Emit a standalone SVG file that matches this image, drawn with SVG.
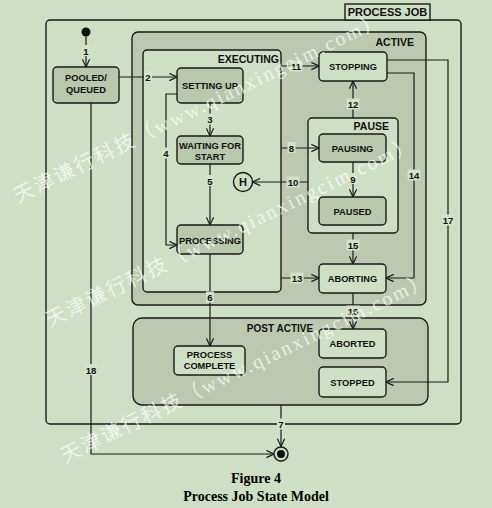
<svg xmlns="http://www.w3.org/2000/svg" width="492" height="508" viewBox="0 0 492 508">
<defs>
<style>
.bg{fill:#cfdfc5}
.reg{fill:#bcc9b0;stroke:#1a1a1a;stroke-width:1.4}
.lreg{fill:#cfdfc5;stroke:#1a1a1a;stroke-width:1.4}
.dn{fill:#b9c7ad;stroke:#1a1a1a;stroke-width:1.4}
.ln{fill:#cfdfc5;stroke:#1a1a1a;stroke-width:1.4}
.t{font-family:"Liberation Sans",Arial,sans-serif;font-weight:bold;font-size:9.3px;fill:#111;text-anchor:middle}
.rt{font-family:"Liberation Sans",Arial,sans-serif;font-weight:bold;font-size:10.5px;fill:#111;text-anchor:end}
.e{fill:none;stroke:#1a1a1a;stroke-width:1.2}
.ea{fill:none;stroke:#1a1a1a;stroke-width:1.2;marker-end:url(#arr)}
.lb{fill:#d3e2c8}
.lt{font-family:"Liberation Sans",Arial,sans-serif;font-weight:bold;font-size:9.6px;fill:#111;text-anchor:middle}
.cap{font-family:"Liberation Serif","Times New Roman",serif;font-weight:bold;font-size:14px;fill:#000;text-anchor:middle}
.wm{font-family:"Liberation Serif","Noto Sans CJK SC",serif;font-size:20px;fill:#ffffff;fill-opacity:0.7;letter-spacing:2.3px}
</style>
<marker id="arr" viewBox="0 0 10 10" refX="9.5" refY="5" markerWidth="9" markerHeight="9" markerUnits="userSpaceOnUse" orient="auto">
<path d="M1,1 L9.5,5 L1,9" fill="none" stroke="#1a1a1a" stroke-width="1.3"/>
</marker>
</defs>
<rect class="bg" x="0" y="0" width="492" height="508"/>

<g id="process-job">
<rect class="lreg" x="46" y="20" width="415" height="404" rx="4"/>
<rect fill="#cfdfc5" stroke="#1a1a1a" stroke-width="1.4" x="345" y="4" width="85" height="16"/>
<text class="t" style="font-size:11px" x="387.5" y="16">PROCESS JOB</text>
</g>

<g id="active">
<rect class="reg" x="132" y="32" width="294" height="273" rx="6"/>
<text class="rt" x="414" y="45.5">ACTIVE</text>
</g>

<g id="executing">
<rect class="lreg" x="143" y="50" width="138" height="242" rx="4"/>
<text class="rt" x="279" y="63">EXECUTING</text>
</g>

<g id="pause">
<rect class="lreg" x="308" y="118" width="90" height="115" rx="4"/>
<text class="rt" x="389" y="130">PAUSE</text>
</g>

<g id="post-active">
<rect class="reg" x="133" y="318" width="295" height="87" rx="9"/>
<text class="t" style="font-size:10px" x="280" y="332">POST ACTIVE</text>
</g>

<g id="initial"><circle cx="86" cy="32" r="4.5" fill="#111"/></g>

<g id="pooled-queued">
<rect class="dn" x="53" y="67" width="66" height="36" rx="4"/>
<text class="t" x="86" y="81">POOLED/</text>
<text class="t" x="86" y="93">QUEUED</text>
</g>

<g id="setting-up">
<rect class="dn" x="177" y="68" width="66" height="35" rx="4"/>
<text class="t" x="210" y="89">SETTING UP</text>
</g>

<g id="waiting-for-start">
<rect class="dn" x="177" y="136" width="66" height="28" rx="4"/>
<text class="t" x="210" y="149">WAITING FOR</text>
<text class="t" x="210" y="160">START</text>
</g>

<g id="processing">
<rect class="dn" x="177" y="225" width="66" height="29" rx="4"/>
<text class="t" x="210" y="243.5">PROCESSING</text>
</g>

<g id="history">
<circle cx="243" cy="182" r="9.5" fill="#cfdfc5" stroke="#1a1a1a" stroke-width="1.4"/>
<text class="t" style="font-size:11px" x="243" y="186">H</text>
</g>

<g id="stopping">
<rect class="ln" x="319" y="52" width="68" height="29" rx="4"/>
<text class="t" x="353" y="70">STOPPING</text>
</g>

<g id="pausing">
<rect class="dn" x="319" y="134" width="67" height="28" rx="4"/>
<text class="t" x="352.5" y="151.5">PAUSING</text>
</g>

<g id="paused">
<rect class="dn" x="319" y="197" width="67" height="28" rx="4"/>
<text class="t" x="352.5" y="214.5">PAUSED</text>
</g>

<g id="aborting">
<rect class="ln" x="319" y="264" width="67" height="29" rx="4"/>
<text class="t" x="352.5" y="282">ABORTING</text>
</g>

<g id="process-complete">
<rect class="ln" x="174" y="346" width="71" height="29" rx="4"/>
<text class="t" x="209.5" y="358">PROCESS</text>
<text class="t" x="209.5" y="369">COMPLETE</text>
</g>

<g id="aborted">
<rect class="ln" x="319" y="329" width="67" height="29" rx="4"/>
<text class="t" x="352.5" y="347">ABORTED</text>
</g>

<g id="stopped">
<rect class="ln" x="319" y="367" width="67" height="30" rx="4"/>
<text class="t" x="352.5" y="385.5">STOPPED</text>
</g>

<g id="final">
<circle cx="281" cy="454" r="7" fill="#cfdfc5" stroke="#1a1a1a" stroke-width="1.4"/>
<circle cx="281" cy="454" r="4" fill="#111"/>
</g>

<g id="connectors">
<path class="ea" d="M86,36.5 L86,67"/>
<path class="ea" d="M119,77 L177,77"/>
<path class="ea" d="M210,103 L210,136"/>
<path class="ea" d="M177,94 L166,94 L166,245 L177,245"/>
<path class="ea" d="M210,164 L210,225"/>
<path class="ea" d="M210,254 L210,346"/>
<path class="ea" d="M281,405 L281,446.5"/>
<path class="ea" d="M281,148 L319,148"/>
<path class="ea" d="M353,162 L353,197"/>
<path class="ea" d="M308,182 L252.5,182"/>
<path class="ea" d="M281,66 L319,66"/>
<path class="ea" d="M353,118 L353,81"/>
<path class="ea" d="M281,278 L319,278"/>
<path class="ea" d="M387,73 L414,73 L414,278 L386,278"/>
<path class="ea" d="M353,233 L353,264"/>
<path class="ea" d="M353,293 L353,329"/>
<path class="ea" d="M387,60 L448,60 L448,382 L386,382"/>
<path class="ea" d="M91,103 L91,454 L274,454"/>

<rect class="lb" x="82" y="45" width="8" height="11"/><text class="lt" x="86" y="54.5">1</text>
<rect class="lb" x="144" y="71.5" width="8" height="11"/><text class="lt" x="148" y="81">2</text>
<rect class="lb" x="206" y="113.5" width="8" height="11"/><text class="lt" x="210" y="123">3</text>
<rect class="lb" x="162" y="147.5" width="8" height="11"/><text class="lt" x="166" y="157">4</text>
<rect class="lb" x="206" y="175" width="8" height="11"/><text class="lt" x="210" y="184.5">5</text>
<rect class="lb" x="206" y="291.5" width="8" height="11"/><text class="lt" x="210" y="301">6</text>
<rect class="lb" x="277" y="418.5" width="8" height="11"/><text class="lt" x="281" y="428">7</text>
<rect class="lb" x="287.5" y="142" width="8" height="11"/><text class="lt" x="291.5" y="151.5">8</text>
<rect class="lb" x="349" y="173" width="8" height="11"/><text class="lt" x="353" y="182.5">9</text>
<rect class="lb" x="286.5" y="176.5" width="13" height="11"/><text class="lt" x="293" y="186">10</text>
<rect class="lb" x="289.5" y="60.5" width="13" height="11"/><text class="lt" x="296" y="70">11</text>
<rect class="lb" x="346.5" y="98.5" width="13" height="11"/><text class="lt" x="353" y="108">12</text>
<rect class="lb" x="290.5" y="272.5" width="13" height="11"/><text class="lt" x="297" y="282">13</text>
<rect class="lb" x="407.5" y="169.5" width="13" height="11"/><text class="lt" x="414" y="179">14</text>
<rect class="lb" x="346.5" y="239.5" width="13" height="11"/><text class="lt" x="353" y="249">15</text>
<rect class="lb" x="346.5" y="305.5" width="13" height="11"/><text class="lt" x="353" y="315">16</text>
<rect class="lb" x="441.5" y="214.5" width="13" height="11"/><text class="lt" x="448" y="224">17</text>
<rect class="lb" x="84.5" y="364" width="13" height="11"/><text class="lt" x="91" y="373.5">18</text>
</g>

<g id="watermark">
<text class="wm" transform="translate(18,203) rotate(-26)">天津谦行科技（www.qianxingcim.com）</text>
<text class="wm" transform="translate(50,327) rotate(-26)">天津谦行科技（www.qianxingcim.com）</text>
<text class="wm" transform="translate(65,463) rotate(-26)">天津谦行科技（www.qianxingcim.com）</text>
</g>

<g id="caption">
<text class="cap" x="256" y="483">Figure 4</text>
<text class="cap" x="256" y="501">Process Job State Model</text>
</g>
</svg>
